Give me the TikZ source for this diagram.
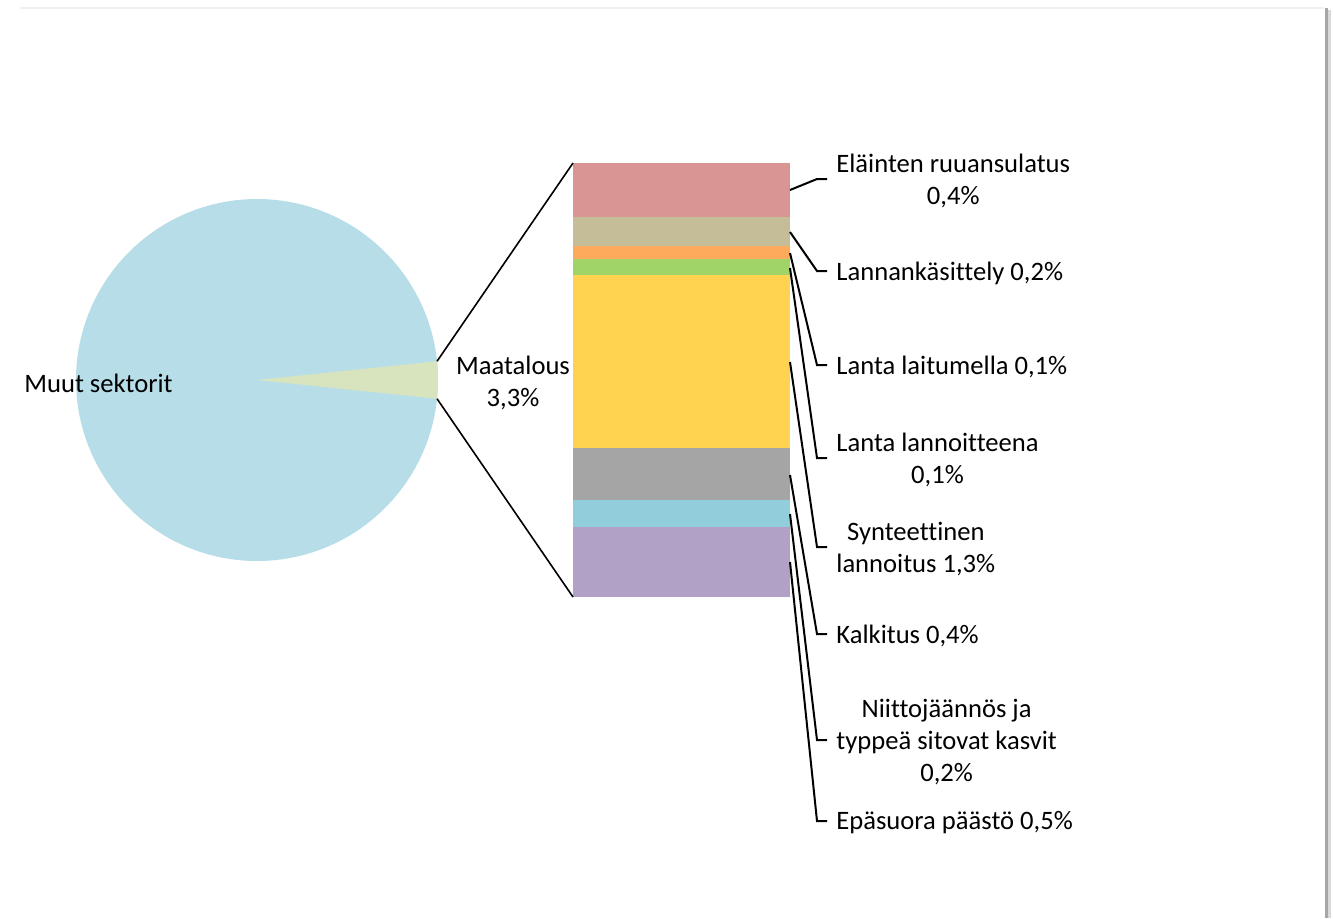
\documentclass[tikz,border=0pt]{standalone}
\usepackage{fontspec}
\setmainfont{Carlito}[Ligatures=NoCommon]
\definecolor{piesini}{HTML}{B7DEE8}
\definecolor{viipale}{HTML}{D7E4BD}
\definecolor{pinkki}{HTML}{D99594}
\definecolor{ruskea}{HTML}{C4BD97}
\definecolor{oranssi}{HTML}{FDAA5C}
\definecolor{vihrea}{HTML}{A0D468}
\definecolor{keltainen}{HTML}{FFD34F}
\definecolor{harmaa}{HTML}{A5A5A5}
\definecolor{vaaleansini}{HTML}{92CDDC}
\definecolor{violetti}{HTML}{B2A1C7}
\tikzset{
  seli/.style={font=\fontsize{13.3}{16}\selectfont, align=center, inner sep=0pt},
  johto/.style={line width=1pt},
}
\begin{document}
\begin{tikzpicture}[x=0.5pt,y=-0.5pt]
    \useasboundingbox (0,0) rectangle (1333,918);
    % Cadre de la figure
    \draw[black!6, line width=0.8pt] (20,8) -- (1324,8);
    \fill[black!35] (1325,8) rectangle (1328,918);
    \fill[black!15] (1328,10) rectangle (1331,918);

    % Camembert avec la part de l'agriculture
    \coordinate (keski) at (257,380);
    \fill[piesini] (keski) circle (181);
    \fill[viipale] (keski) -- ++(-5.94:181) coordinate (v1)
        arc[start angle=-5.94, end angle=5.94, radius=181] coordinate (v2) -- cycle;
    \node[seli, anchor=west] (muut) at (24,383) {Muut sektorit};
    \node[seli] (maatalous) at (513,383) {Maatalous\\3,3\%};

    % Barre empilée
    \foreach \yt/\yb/\col in {163/217/pinkki, 217/246/ruskea, 246/259/oranssi,
        259/275/vihrea, 275/448/keltainen, 448/500/harmaa, 500/527/vaaleansini,
        527/597/violetti}
        \fill[\col] (573,\yt) rectangle (790,\yb);
    \coordinate (ylakulma) at (573,163);
    \coordinate (alakulma) at (573,597);

    % Lignes entre le camembert et la barre
    \draw[line width=0.8pt] (v1) -- (ylakulma);
    \draw[line width=0.8pt] (v2) -- (alakulma);

    % Étiquettes et lignes de rappel
    \foreach \i/\ya/\yb/\teksti in {
        1/190/179/{Eläinten ruuansulatus\\0,4\%},
        2/232/271/{Lannankäsittely 0,2\%},
        3/253/365/{Lanta laitumella 0,1\%},
        4/268/458/{Lanta lannoitteena\\0,1\%},
        5/362/547/{Synteettinen\\lannoitus 1,3\%},
        6/475/634/{Kalkitus 0,4\%},
        7/514/740/{Niittojäännös ja\\typpeä sitovat kasvit\\0,2\%},
        8/562/821/{Epäsuora päästö 0,5\%}} {
        \coordinate (b\i) at (790,\ya);
        \coordinate (k\i) at (827,\yb);
        \node[seli, anchor=west, inner xsep=4.5pt, yshift=-1pt] (s\i) at (k\i) {\teksti};
        \draw[johto] (b\i) -- ([xshift=-5pt]k\i) -- (k\i);
    }
\end{tikzpicture}
\end{document}
